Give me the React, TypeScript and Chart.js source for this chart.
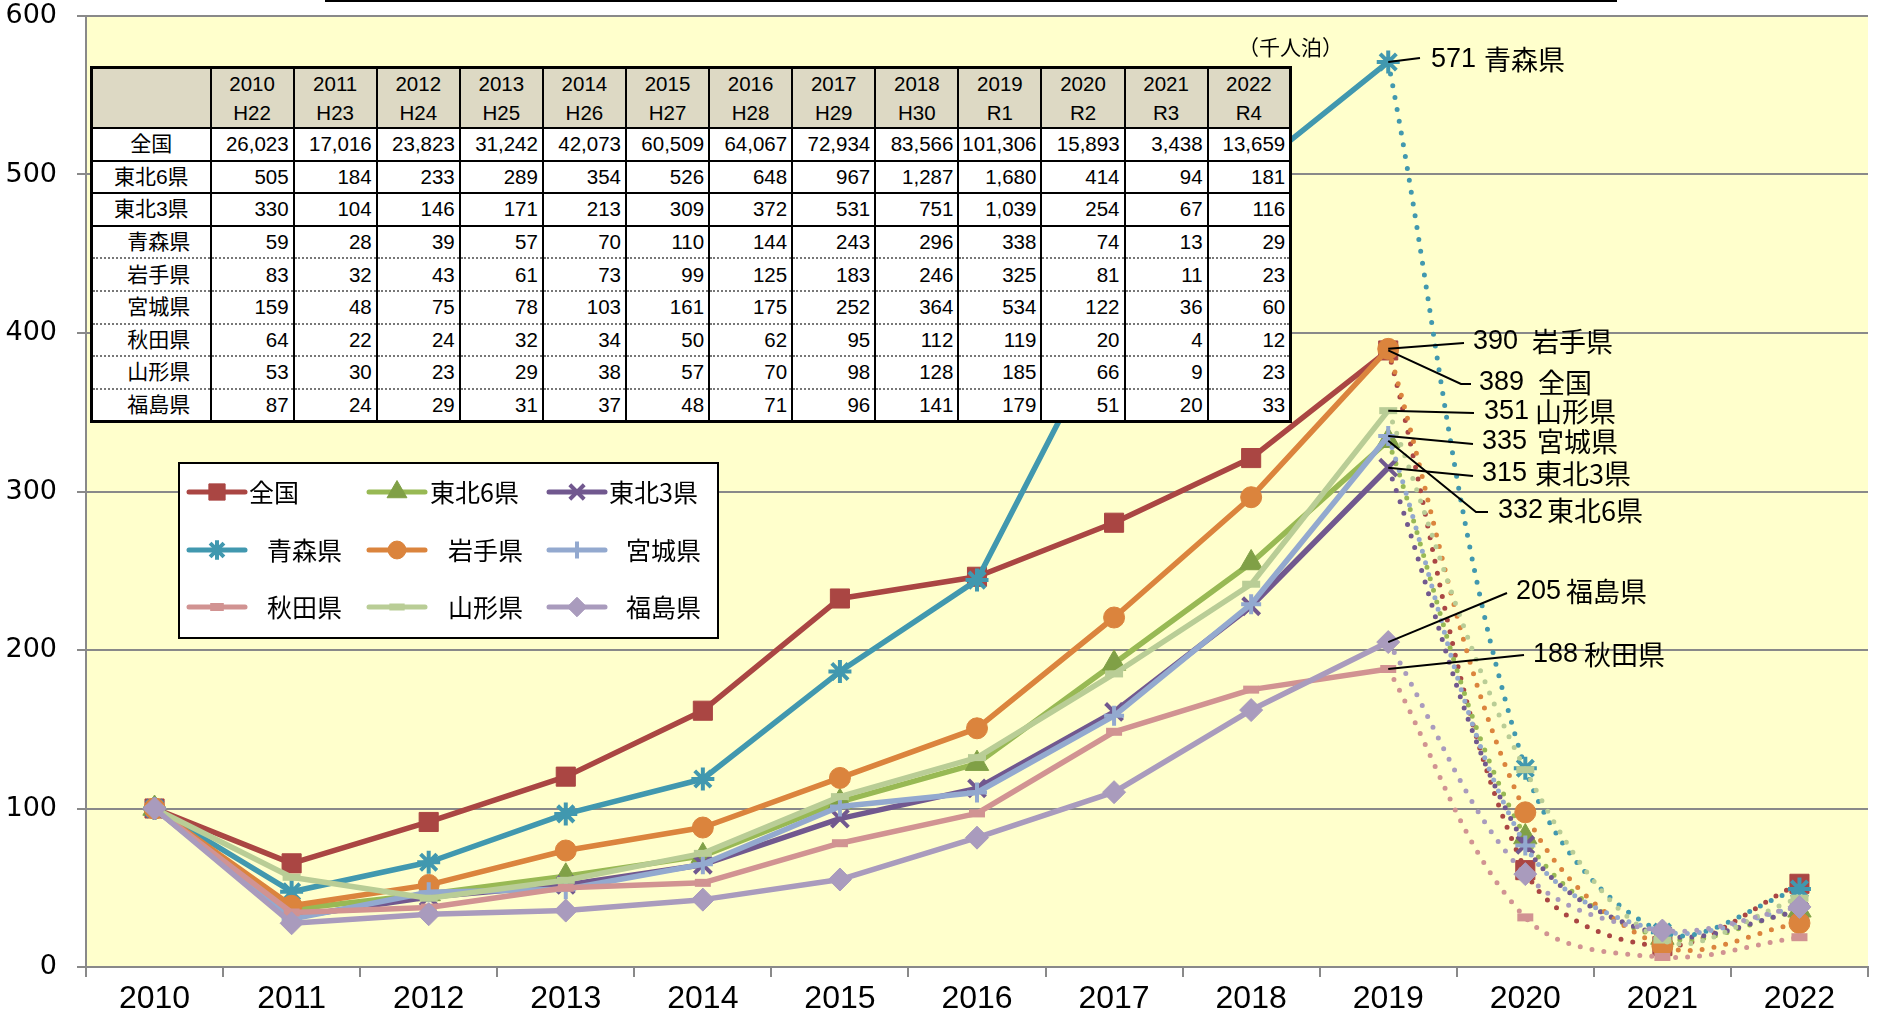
import React, { useEffect, useRef } from 'react';
import { Chart, registerables } from 'chart.js';
import { drawPoint } from 'chart.js/helpers';

Chart.register(...registerables);

// ---------------- data ----------------
const YEARS = ['2010', '2011', '2012', '2013', '2014', '2015', '2016', '2017', '2018', '2019', '2020', '2021', '2022'];
const ERAS = ['H22', 'H23', 'H24', 'H25', 'H26', 'H27', 'H28', 'H29', 'H30', 'R1', 'R2', 'R3', 'R4'];
const SERIES_NAMES = ['全国', '東北6県', '東北3県', '青森県', '岩手県', '宮城県', '秋田県', '山形県', '福島県'];

// index (2010 = 100)
const IDX_ZENKOKU = [100, 65.4, 91.5, 120.1, 161.7, 232.5, 246.2, 280.3, 321.1, 389, 61.1, 13.2, 52.5];
const IDX_TOHOKU6 = [100, 36.4, 46.1, 57.2, 70.1, 104.2, 128.3, 191.5, 254.9, 332, 82.0, 18.6, 35.8];
const IDX_TOHOKU3 = [100, 31.5, 44.2, 51.8, 64.5, 93.6, 112.7, 160.9, 227.6, 315, 77.0, 20.3, 35.2];
const IDX_AOMORI = [100, 47.5, 66.1, 96.6, 118.6, 186.4, 244.1, 411.9, 501.7, 571, 125.4, 22.0, 49.2];
const IDX_IWATE = [100, 38.6, 51.8, 73.5, 88.0, 119.3, 150.6, 220.5, 296.4, 390, 97.6, 13.3, 27.7];
const IDX_MIYAGI = [100, 30.2, 47.2, 49.1, 64.8, 101.3, 110.1, 158.5, 228.9, 335, 76.7, 22.6, 37.7];
const IDX_AKITA = [100, 34.4, 37.5, 50.0, 53.1, 78.1, 96.9, 148.4, 175.0, 188, 31.3, 6.3, 18.8];
const IDX_YAMAGATA = [100, 56.6, 43.4, 54.7, 71.7, 107.5, 132.1, 184.9, 241.5, 351, 124.5, 17.0, 43.4];
const IDX_FUKUSHIMA = [100, 27.6, 33.3, 35.6, 42.5, 55.2, 81.6, 110.3, 162.1, 205, 58.6, 23.0, 37.9];
const SERIES = [IDX_ZENKOKU, IDX_TOHOKU6, IDX_TOHOKU3, IDX_AOMORI, IDX_IWATE, IDX_MIYAGI, IDX_AKITA, IDX_YAMAGATA, IDX_FUKUSHIMA];
const LABEL_2019 = ['389', '332', '315', '571', '390', '335', '188', '351', '205'];

// table (千人泊)
const TBL_ZENKOKU = [26023, 17016, 23823, 31242, 42073, 60509, 64067, 72934, 83566, 101306, 15893, 3438, 13659];
const TBL_TOHOKU6 = [505, 184, 233, 289, 354, 526, 648, 967, 1287, 1680, 414, 94, 181];
const TBL_TOHOKU3 = [330, 104, 146, 171, 213, 309, 372, 531, 751, 1039, 254, 67, 116];
const TBL_AOMORI = [59, 28, 39, 57, 70, 110, 144, 243, 296, 338, 74, 13, 29];
const TBL_IWATE = [83, 32, 43, 61, 73, 99, 125, 183, 246, 325, 81, 11, 23];
const TBL_MIYAGI = [159, 48, 75, 78, 103, 161, 175, 252, 364, 534, 122, 36, 60];
const TBL_AKITA = [64, 22, 24, 32, 34, 50, 62, 95, 112, 119, 20, 4, 12];
const TBL_YAMAGATA = [53, 30, 23, 29, 38, 57, 70, 98, 128, 185, 66, 9, 23];
const TBL_FUKUSHIMA = [87, 24, 29, 31, 37, 48, 71, 96, 141, 179, 51, 20, 33];
const TABLE_ROWS = [TBL_ZENKOKU, TBL_TOHOKU6, TBL_TOHOKU3, TBL_AOMORI, TBL_IWATE, TBL_MIYAGI, TBL_AKITA, TBL_YAMAGATA, TBL_FUKUSHIMA];
const UNIT_LABEL = '（千人泊）';

// ---------------- styles ----------------
const STYLES = [
  { line: '#AA4643', marker: '#AA4643', ps: 'rect', r: 13.5, pbw: 1 },
  { line: '#98B954', marker: '#80A046', ps: 'triangle', r: 13.5, pbw: 1 },
  { line: '#71588F', marker: '#71588F', ps: 'crossRot', r: 12, pbw: 4 },
  { line: '#4198AF', marker: '#4198AF', ps: 'star', r: 11.5, pbw: 4 },
  { line: '#DB843D', marker: '#DB843D', ps: 'circle', r: 10.5, pbw: 1 },
  { line: '#93A9CF', marker: '#93A9CF', ps: 'cross', r: 10, pbw: 4 },
  { line: '#D19392', marker: '#D19392', ps: 'line', r: 8, pbw: 8 },
  { line: '#B9CD96', marker: '#B9CD96', ps: 'line', r: 9, pbw: 7 },
  { line: '#A99BBD', marker: '#A99BBD', ps: 'rectRot', r: 11.5, pbw: 1 },
];
const PLOT_BG = '#FFFFCC';
const GRID = '#898989';
const JP = '"Noto Sans CJK JP", "Noto Sans", sans-serif';

const ANNOT_LAYOUT = [
  { s: 3, path: [[1420, 58]], numX: 1431, nameX: 1484, y: 60 },
  { s: 4, path: [[1464, 343]], numX: 1473, nameX: 1532, y: 342 },
  { s: 0, path: [[1461, 384], [1471, 384]], numX: 1479, nameX: 1538, y: 383 },
  { s: 7, path: [[1474, 413]], numX: 1484, nameX: 1535, y: 412 },
  { s: 5, path: [[1473, 444]], numX: 1482, nameX: 1537, y: 442 },
  { s: 2, path: [[1473, 476]], numX: 1482, nameX: 1535, y: 474 },
  { s: 1, path: [[1476, 512], [1488, 512]], numX: 1498, nameX: 1547, y: 511 },
  { s: 8, path: [[1507, 593]], numX: 1516, nameX: 1566, y: 592 },
  { s: 6, path: [[1524, 655]], numX: 1533, nameX: 1584, y: 655 },
];

const LEGEND_BOX = { x: 179, y: 463, w: 539, h: 175 };
const LEGEND_ROW_Y = [492, 550, 607];
const LEGEND_LINE_X = [189, 369, 549];
const LEGEND_TEXT_X = [[249, 430, 609], [267, 448, 626], [267, 448, 626]];

const overlayPlugin = {
  id: 'overlay',
  beforeDraw(chart: any) {
    const { ctx, chartArea: a } = chart;
    ctx.save();
    ctx.fillStyle = PLOT_BG;
    ctx.fillRect(a.left, a.top, a.right - a.left, a.bottom - a.top);
    ctx.restore();
  },
  afterDraw(chart: any) {
    const ctx = chart.ctx;
    ctx.save();
    // cut-off frame line at top
    ctx.fillStyle = '#000';
    ctx.fillRect(325, 0, 1292, 2);

    // unit
    ctx.font = `21px ${JP}`;
    ctx.textBaseline = 'middle';
    ctx.textAlign = 'left';
    ctx.fillStyle = '#000';
    ctx.fillText(UNIT_LABEL, 1238, 47);

    // annotations with leader lines
    ANNOT_LAYOUT.forEach((an) => {
      const meta = chart.getDatasetMeta(an.s * 2);
      const pt = meta.data[9];
      ctx.strokeStyle = '#000';
      ctx.lineWidth = 2;
      ctx.beginPath();
      ctx.moveTo(pt.x, pt.y);
      an.path.forEach(([qx, qy]) => ctx.lineTo(qx, qy));
      ctx.stroke();
      ctx.fillStyle = '#000';
      ctx.font = `27px "Liberation Sans Narrow", "Liberation Sans", sans-serif`;
      ctx.fillText(LABEL_2019[an.s], an.numX, an.y);
      ctx.font = `27px ${JP}`;
      ctx.fillText(SERIES_NAMES[an.s], an.nameX, an.y);
    });

    // legend
    const b = LEGEND_BOX;
    ctx.fillStyle = '#fff';
    ctx.fillRect(b.x, b.y, b.w, b.h);
    ctx.strokeStyle = '#000';
    ctx.lineWidth = 2;
    ctx.strokeRect(b.x, b.y, b.w, b.h);
    for (let row = 0; row < 3; row++) {
      for (let col = 0; col < 3; col++) {
        const s = row * 3 + col;
        const st = STYLES[s];
        const y = LEGEND_ROW_Y[row];
        const x0 = LEGEND_LINE_X[col];
        ctx.strokeStyle = st.line;
        ctx.lineWidth = 5;
        ctx.lineCap = 'round';
        ctx.beginPath();
        ctx.moveTo(x0, y);
        ctx.lineTo(x0 + 56, y);
        ctx.stroke();
        ctx.lineCap = 'butt';
        ctx.fillStyle = st.marker;
        ctx.strokeStyle = st.marker;
        ctx.lineWidth = st.pbw;
        drawPoint(ctx, { pointStyle: st.ps, radius: st.r * 0.85, borderWidth: st.pbw, rotation: 0 } as any, x0 + 28, y);
        ctx.fillStyle = '#000';
        ctx.font = `25px ${JP}`;
        ctx.textBaseline = 'middle';
        ctx.fillText(SERIES_NAMES[s], LEGEND_TEXT_X[row][col], y);
      }
    }
    ctx.restore();
  },
};

function buildDatasets() {
  const ds: any[] = [];
  SERIES.forEach((vals, i) => {
    const st = STYLES[i];
    const common = {
      label: SERIES_NAMES[i],
      borderColor: st.line,
      pointStyle: st.ps,
      pointBackgroundColor: st.marker,
      pointBorderColor: st.marker,
      pointBorderWidth: st.pbw,
      spanGaps: false,
    };
    ds.push({
      ...common,
      data: vals.map((v, j) => (j <= 9 ? v : null)),
      borderWidth: 5.5,
      borderCapStyle: 'round',
      borderJoinStyle: 'round',
      tension: 0,
      pointRadius: st.r,
      order: 100 - i * 2,
    });
    ds.push({
      ...common,
      data: vals.map((v, j) => (j >= 9 ? v : null)),
      borderWidth: 5,
      borderDash: [0, 12],
      borderCapStyle: 'round',
      tension: 0.35,
      pointRadius: (c: any) => (c.dataIndex >= 10 ? st.r : 0),
      order: 100 - i * 2 - 1,
    });
  });
  return ds;
}

export default function App() {
  const ref = useRef<HTMLCanvasElement>(null);
  useEffect(() => {
    document.body.style.margin = '0';
    const chart = new Chart(ref.current as HTMLCanvasElement, {
      type: 'line',
      data: { labels: YEARS, datasets: buildDatasets() },
      options: {
        animation: false,
        responsive: false,
        devicePixelRatio: 1,
        layout: { padding: { left: 0, right: 6, top: 12, bottom: 0 } },
        plugins: { legend: { display: false }, tooltip: { enabled: false } },
        elements: { point: { hoverRadius: 0 } },
        scales: {
          x: {
            offset: true,
            grid: { offset: true, drawOnChartArea: false, drawTicks: true, tickLength: 10, color: GRID, lineWidth: 2 },
            border: { color: GRID, width: 2 },
            ticks: {
              color: '#000',
              font: { family: '"Liberation Sans", Arial, sans-serif', size: 32, lineHeight: 1 },
              padding: 6,
              maxRotation: 0,
              autoSkip: false,
            },
            afterFit: (s: any) => {
              s.height = 56;
              s.paddingLeft = 0;
              s.paddingRight = 0;
            },
          },
          y: {
            min: 0,
            max: 600,
            ticks: {
              stepSize: 100,
              padding: 20,
              color: '#000',
              font: { family: '"DejaVu Sans", sans-serif', size: 27, lineHeight: 0.9 },
            },
            grid: { color: GRID, lineWidth: 2, tickLength: 9 },
            border: { color: GRID, width: 2 },
            afterFit: (s: any) => {
              s.width = 86;
              s.paddingTop = 0;
              s.paddingBottom = 0;
            },
          },
        },
      } as any,
      plugins: [overlayPlugin],
    });
    return () => chart.destroy();
  }, []);

  const cellBase: React.CSSProperties = {
    borderLeft: '2px solid #000',
    borderRight: '2px solid #000',
    padding: 0,
    overflow: 'hidden',
    whiteSpace: 'nowrap',
  };

  return (
    <div style={{ position: 'relative', width: 1884, height: 1023, overflow: 'hidden', background: '#fff' }}>
      <canvas ref={ref} width={1884} height={1023} style={{ position: 'absolute', left: 0, top: 0, width: 1884, height: 1023 }} />
      <table
        style={{
          position: 'absolute',
          left: 90,
          top: 66,
          width: 1199,
          borderCollapse: 'collapse',
          tableLayout: 'fixed',
          font: `20.5px "Liberation Sans", "Noto Sans CJK JP", sans-serif`,
          color: '#000',
          background: '#fff',
          border: '3px solid #000',
        }}
      >
        <colgroup>
          <col style={{ width: 119 }} />
          {YEARS.map((y) => (
            <col key={y} style={{ width: 83.1 }} />
          ))}
        </colgroup>
        <thead>
          <tr style={{ height: 58 }}>
            <th style={{ ...cellBase, background: '#DDD9C4', borderBottom: '2px solid #000' }} />
            {YEARS.map((y, j) => (
              <th
                key={y}
                style={{
                  ...cellBase,
                  background: '#DDD9C4',
                  borderBottom: '2px solid #000',
                  fontWeight: 'normal',
                  lineHeight: '29px',
                  textAlign: 'center',
                  verticalAlign: 'middle',
                }}
              >
                {y}
                <br />
                {ERAS[j]}
              </th>
            ))}
          </tr>
        </thead>
        <tbody>
          {TABLE_ROWS.map((row, i) => {
            const bottom = i <= 2 ? '2px solid #000' : i === 8 ? '3px solid #000' : '2px dotted #777';
            return (
              <tr key={i} style={{ height: 32.6 }}>
                <td
                  style={{
                    ...cellBase,
                    borderBottom: bottom,
                    textAlign: 'center',
                    paddingLeft: i >= 3 ? 15 : 0,
                    lineHeight: '26px',
                    fontSize: 21,
                  }}
                >
                  {SERIES_NAMES[i]}
                </td>
                {row.map((v, j) => (
                  <td
                    key={j}
                    style={{ ...cellBase, borderBottom: bottom, textAlign: 'right', paddingRight: 4, lineHeight: '26px' }}
                  >
                    {v.toLocaleString('en-US')}
                  </td>
                ))}
              </tr>
            );
          })}
        </tbody>
      </table>
    </div>
  );
}
